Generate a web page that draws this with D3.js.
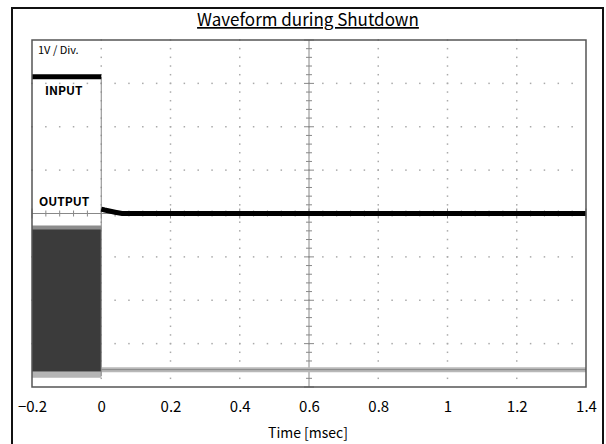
<!DOCTYPE html>
<html>
<head>
<meta charset="utf-8">
<script src="https://cdn.jsdelivr.net/npm/d3@7"></script>
<style>
  body { margin: 0; background: #fff; }
  svg text { font-family: "Noto Sans CJK JP", "DejaVu Sans", sans-serif; fill: #000; }
</style>
</head>
<body>
<svg id="chart" width="606" height="444"></svg>
<script>
// time axis (msec) and tick labels
var xTicks = [-0.2, 0, 0.2, 0.4, 0.6, 0.8, 1, 1.2, 1.4];
var xTickLabels = ['\u22120.2', '0', '0.2', '0.4', '0.6', '0.8', '1', '1.2', '1.4'];

// INPUT trace (V, 1V/div) before and after shutdown
var inBeforeT = [-0.2, 0];
var inBeforeV = [6.75, 6.75];
var inAfterT = [0, 0.01, 0.04, 0.06, 1.4];
var inAfterV = [3.70, 3.68, 3.63, 3.60, 3.60];

// OUTPUT trace: switching envelope before shutdown, flat after
var outT = [-0.2, 0];
var outHi = [3.28, 3.28];
var outLo = [-0.05, -0.05];
var outAfterT = [0, 1.4];
var outAfterV = [0.0, 0.0];

var svg = d3.select('#chart');
var pLeft = 32, pRight = 586, pTop = 40, pBottom = 387;

var x = d3.scaleLinear().domain([-0.2, 1.4]).range([pLeft, pRight]);
var y = d3.scaleLinear().domain([-0.4, 7.6]).range([pBottom, pTop]);

// outer frame
svg.append('rect').attr('x', 12).attr('y', 8).attr('width', 591).attr('height', 445)
    .attr('fill', 'none').attr('stroke', '#111').attr('stroke-width', 2);

// title
svg.append('text').attr('x', 308).attr('y', 26).attr('text-anchor', 'middle')
    .style('font-size', '17px').style('text-decoration', 'underline')
    .text('Waveform during Shutdown');

var g = svg.append('g');

// dotted grid
var xDiv = (pRight - pLeft) / 8, yDiv = (pBottom - pTop) / 8;
var xGrid = xTicks.slice(1, -1);
var yGrid = d3.range(0.6, 7.6, 1);
xGrid.forEach(function(v) {
    if (v === 0.6) return;
    d3.range(pTop, pBottom, yDiv / 5).forEach(function(py) {
        g.append('rect').attr('x', x(v) - 0.75).attr('y', py - 0.75).attr('width', 1.5).attr('height', 1.5).attr('fill', '#aaa');
    });
});
yGrid.forEach(function(v) {
    if (Math.abs(v - 3.6) < 0.01) return;
    d3.range(pLeft, pRight, xDiv / 5).forEach(function(px) {
        g.append('rect').attr('x', px - 0.75).attr('y', y(v) - 0.75).attr('width', 1.5).attr('height', 1.5).attr('fill', '#aaa');
    });
});

// center axes with tick marks
var cx = x(0.6), cy = y(3.6);
g.append('line').attr('x1', cx).attr('x2', cx).attr('y1', pTop).attr('y2', pBottom).attr('stroke', '#888').attr('stroke-width', 1);
g.append('line').attr('x1', pLeft).attr('x2', pRight).attr('y1', cy).attr('y2', cy).attr('stroke', '#888').attr('stroke-width', 1);
d3.range(0, 41).forEach(function(i) {
    var py = pTop + i * yDiv / 5, len = i % 5 === 0 ? 5 : 3;
    g.append('line').attr('x1', cx - len).attr('x2', cx + len).attr('y1', py).attr('y2', py).attr('stroke', '#888');
    var px = pLeft + i * xDiv / 5;
    g.append('line').attr('x1', px).attr('x2', px).attr('y1', cy - len).attr('y2', cy + len).attr('stroke', '#888');
});

var line = d3.line().x(function(d) { return x(d[0]); }).y(function(d) { return y(d[1]); });
var zip = function(a, b) { return a.map(function(v, i) { return [v, b[i]]; }); };

// OUTPUT switching envelope
var area = d3.area().x(function(d) { return x(d[0]); }).y0(function(d) { return y(d[2]); }).y1(function(d) { return y(d[1]); });
var env = outT.map(function(t, i) { return [t, outHi[i], outLo[i]]; });
g.append('path').attr('d', area(env)).attr('fill', '#3b3b3b');
g.append('path').attr('d', line(zip(outT, outHi))).attr('fill', 'none').attr('stroke', '#8c8c8c').attr('stroke-width', 4);
g.append('path').attr('d', line(zip(outT, outLo))).attr('transform', 'translate(0,3)').attr('fill', 'none').attr('stroke', '#b5b5b5').attr('stroke-width', 6);
g.append('path').attr('d', line(zip(outAfterT, outAfterV))).attr('fill', 'none').attr('stroke', '#b8b8b8').attr('stroke-width', 5);
g.append('path').attr('d', line(zip(outAfterT, outAfterV))).attr('fill', 'none').attr('stroke', '#888').attr('stroke-width', 1);

// transition edge at t = 0
g.append('line').attr('x1', x(0)).attr('x2', x(0)).attr('y1', y(inBeforeV[1])).attr('y2', y(-0.15))
    .attr('stroke', '#888').attr('stroke-width', 1);

// INPUT
g.append('path').attr('d', line(zip(inBeforeT, inBeforeV))).attr('fill', 'none').attr('stroke', '#000').attr('stroke-width', 5);
g.append('path').attr('d', line(zip(inAfterT, inAfterV))).attr('fill', 'none').attr('stroke', '#000').attr('stroke-width', 5);

// plot frame
svg.append('rect').attr('x', pLeft).attr('y', pTop).attr('width', pRight - pLeft).attr('height', pBottom - pTop)
    .attr('fill', 'none').attr('stroke', '#555').attr('stroke-width', 1.5);

// labels inside
svg.append('text').attr('x', 38).attr('y', 54).style('font-size', '11px').text('1V / Div.');
svg.append('text').attr('x', 45).attr('y', 95).style('font-size', '12px').style('font-weight', 'bold').text('INPUT');
svg.append('text').attr('x', 39).attr('y', 206).style('font-size', '12px').style('font-weight', 'bold').text('OUTPUT');

// x axis labels
var axis = d3.axisBottom(x).tickValues(xTicks).tickSize(0).tickPadding(14)
    .tickFormat(function(d, i) { return xTickLabels[i]; });
var ax = svg.append('g').attr('transform', 'translate(0,' + pBottom + ')').call(axis);
ax.select('.domain').remove();
ax.selectAll('text').style('font-size', '15px').style('font-family', '"Noto Sans CJK JP", sans-serif').attr('fill', '#000');

svg.append('text').attr('x', 308).attr('y', 438).attr('text-anchor', 'middle').style('font-size', '14px').text('Time [msec]');
</script>
</body>
</html>
